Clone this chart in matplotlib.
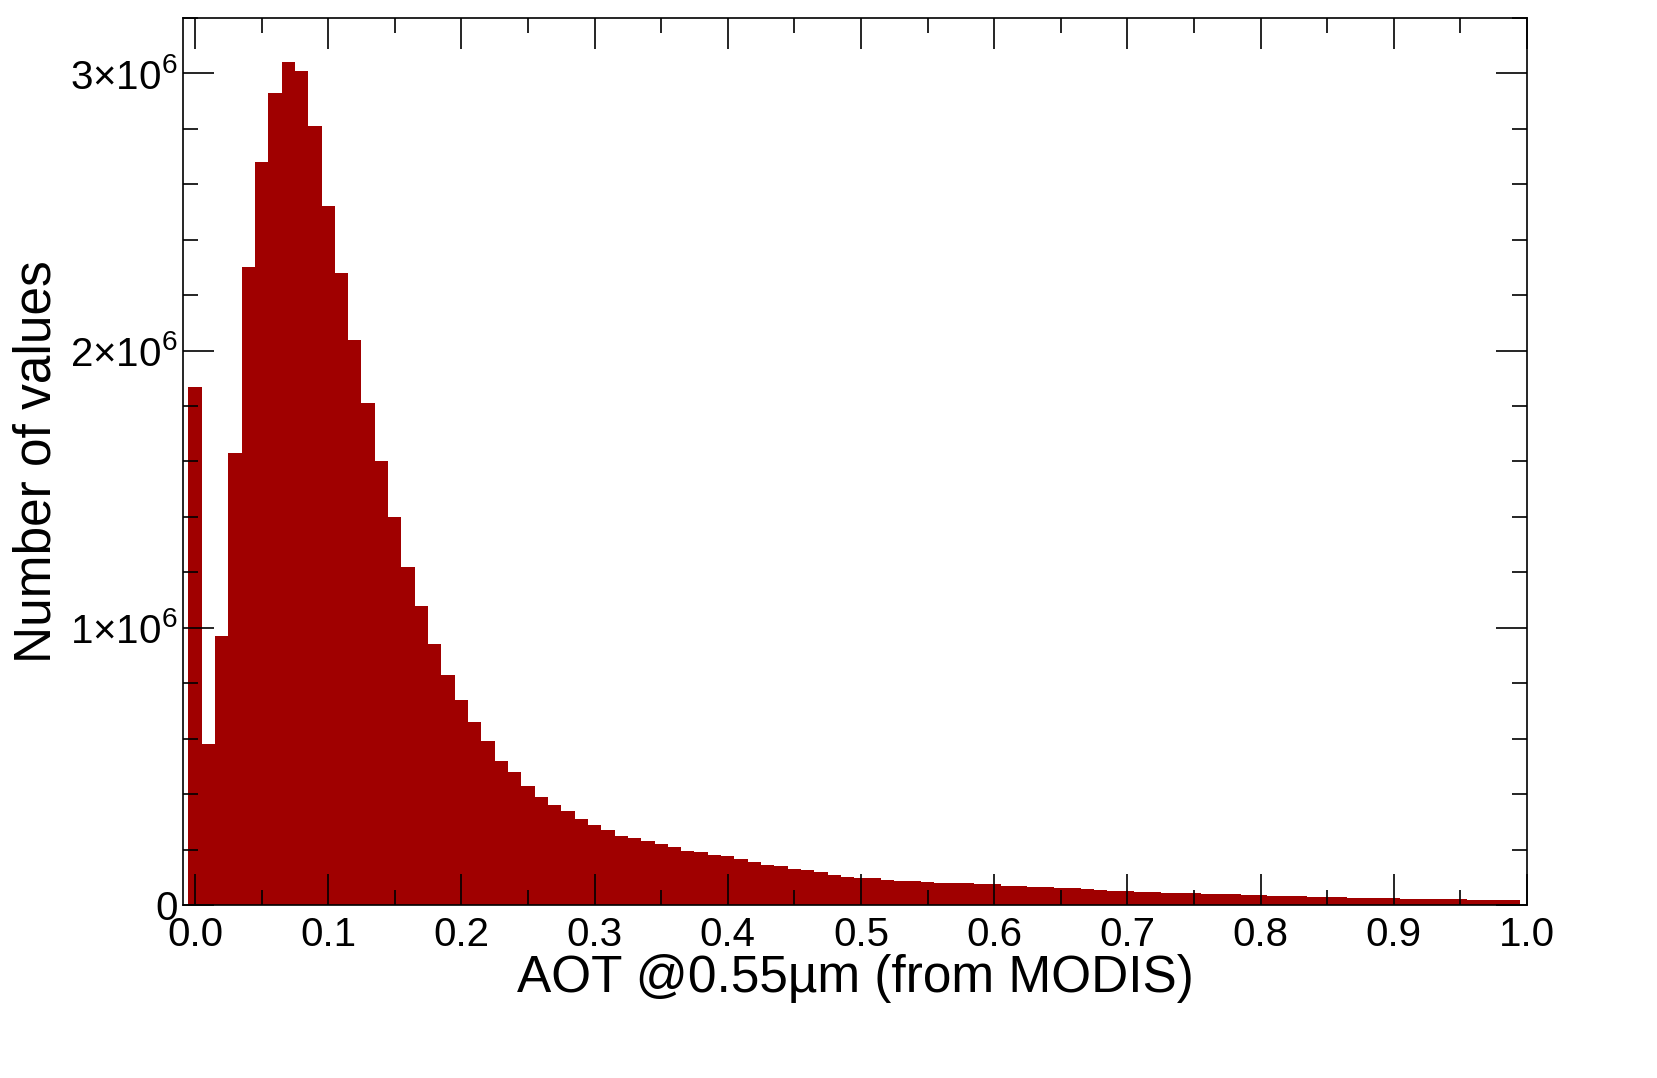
import matplotlib
matplotlib.use("Agg")
import matplotlib.pyplot as plt
import numpy as np
from matplotlib.ticker import FixedLocator, MultipleLocator

bin_width = 0.01
counts_millions = [
    1.87, 0.58, 0.97, 1.63, 2.30, 2.68, 2.93, 3.04, 3.01, 2.81,
    2.52, 2.28, 2.04, 1.81, 1.60, 1.40, 1.22, 1.08, 0.94, 0.83,
    0.74, 0.66, 0.59, 0.52, 0.48, 0.43, 0.39, 0.36, 0.34, 0.31,
    0.29, 0.27, 0.25, 0.24, 0.23, 0.22, 0.21, 0.195, 0.19, 0.18,
    0.175, 0.165, 0.155, 0.145, 0.14, 0.13, 0.125, 0.12, 0.11, 0.10,
    0.098, 0.097, 0.09, 0.088, 0.085, 0.082, 0.08, 0.078, 0.08, 0.076,
    0.074, 0.07, 0.068, 0.066, 0.064, 0.062, 0.06, 0.056, 0.054, 0.052,
    0.05, 0.048, 0.046, 0.045, 0.044, 0.042, 0.04, 0.039, 0.038, 0.036,
    0.035, 0.034, 0.033, 0.031, 0.03, 0.029, 0.028, 0.027, 0.026, 0.025,
    0.024, 0.023, 0.022, 0.021, 0.021, 0.02, 0.019, 0.018, 0.018, 0.017,
]
centers = np.arange(len(counts_millions)) * bin_width
counts = np.array(counts_millions) * 1e6
xtick_vals = np.arange(0, 1.01, 0.1)

plt.rcParams['font.family'] = ['Liberation Sans', 'DejaVu Sans']
plt.rcParams['mathtext.fontset'] = 'custom'
plt.rcParams['mathtext.rm'] = 'Liberation Sans'
fig = plt.figure(figsize=(16.58, 10.78), dpi=100)
ax = fig.add_axes([183/1658, 1-905/1078, (1527-183)/1658, (905-18)/1078])
ax.bar(centers, counts, width=bin_width, color='#a00000', linewidth=0)
ax.set_xlim(-0.009, 1.0)
ax.set_ylim(0, 3.2e6)
ax.xaxis.set_major_locator(FixedLocator(xtick_vals))
ax.set_xticklabels([f"{v:.1f}" for v in xtick_vals])
ax.xaxis.set_minor_locator(MultipleLocator(0.05))
ax.yaxis.set_major_locator(FixedLocator([0, 1e6, 2e6, 3e6]))
ax.set_yticklabels(['0', r'1$\times$10$^6$', r'2$\times$10$^6$', r'3$\times$10$^6$'])
ax.yaxis.set_minor_locator(MultipleLocator(2e5))
ax.tick_params(which='both', direction='in', top=True, right=True, labelsize=29, width=1.2)
ax.tick_params(which='major', length=22)
ax.tick_params(which='minor', length=11)
ax.tick_params(axis='x', pad=8)
ax.tick_params(axis='y', pad=4)
for s in ax.spines.values():
    s.set_linewidth(1.2)
ax.set_xlabel('AOT @0.55µm (from MODIS)', fontsize=37, labelpad=0)
ax.set_ylabel('Number of values', fontsize=37, labelpad=6)
fig.savefig('out.png', dpi=100)
